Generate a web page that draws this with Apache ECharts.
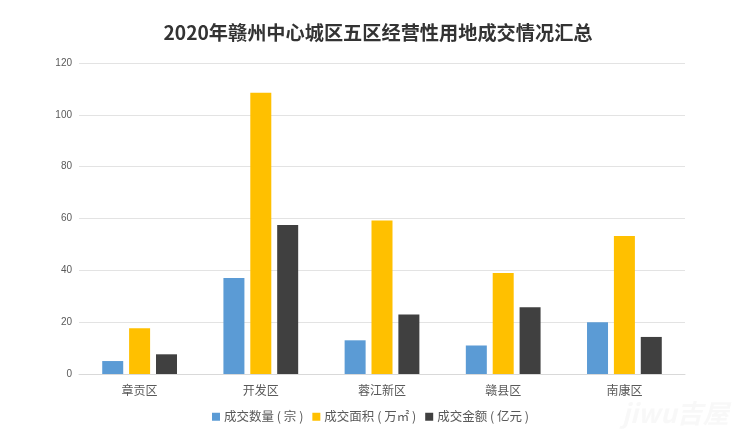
<!DOCTYPE html>
<html><head><meta charset="utf-8">
<style>html,body{margin:0;padding:0;background:#fff}#c{width:756px;height:444px}</style>
<script src="https://cdn.jsdelivr.net/npm/echarts@6/dist/echarts.min.js"></script>
</head><body><div id="c"></div>
<script>
const categories=['章贡区','开发区','蓉江新区','赣县区','南康区'];
const countValues=[5,37,13,11,20];
const areaValues=[17.7,108.5,59.2,39,53.2];
const amountValues=[7.6,57.5,23,25.8,14.3];
const seriesNames=['成交数量 ( 宗 )','成交面积 ( 万㎡ )','成交金额 ( 亿元 )'];
const colors=['#5b9bd5','#ffc000','#404040'];
const font='"Noto Sans CJK SC","Liberation Sans",sans-serif';
const chart=echarts.init(document.getElementById('c'),null,{renderer:'canvas'});
const mk=(i,d)=>({name:seriesNames[i],type:'bar',data:d,barWidth:21,barGap:'28%',itemStyle:{color:colors[i]}});
chart.setOption({
 animation:false,backgroundColor:'#fff',
 title:{text:'2020年赣州中心城区五区经营性用地成交情况汇总',left:'center',top:18,
  textStyle:{fontFamily:font,fontSize:19.2,fontWeight:'bold',color:'#333333'}},
 legend:{bottom:16,left:207,itemWidth:8,itemHeight:8,itemGap:9,icon:'rect',
  textStyle:{fontFamily:font,fontSize:12.5,color:'#595959',padding:[0,0,0,-1]}},
 grid:{left:79,right:71,top:63,bottom:70},
 xAxis:{type:'category',data:categories,axisTick:{show:false},
  axisLine:{lineStyle:{color:'#d9d9d9'}},
  axisLabel:{fontFamily:font,fontSize:12,color:'#595959',margin:10}},
 yAxis:{type:'value',min:0,max:120,interval:20,axisLine:{show:false},axisTick:{show:false},
  splitLine:{lineStyle:{color:'#e3e3e3'}},
  axisLabel:{fontFamily:'"Liberation Sans",sans-serif',fontSize:10,color:'#595959',margin:7}},
 series:[mk(0,countValues),mk(1,areaValues),mk(2,amountValues)],
 graphic:[{type:'text',left:622,top:400,silent:true,z:100,
  style:{text:'jiwu吉屋',font:'italic bold 26px '+font,fill:'rgba(244,244,244,0.6)'}}]
});
</script></body></html>
